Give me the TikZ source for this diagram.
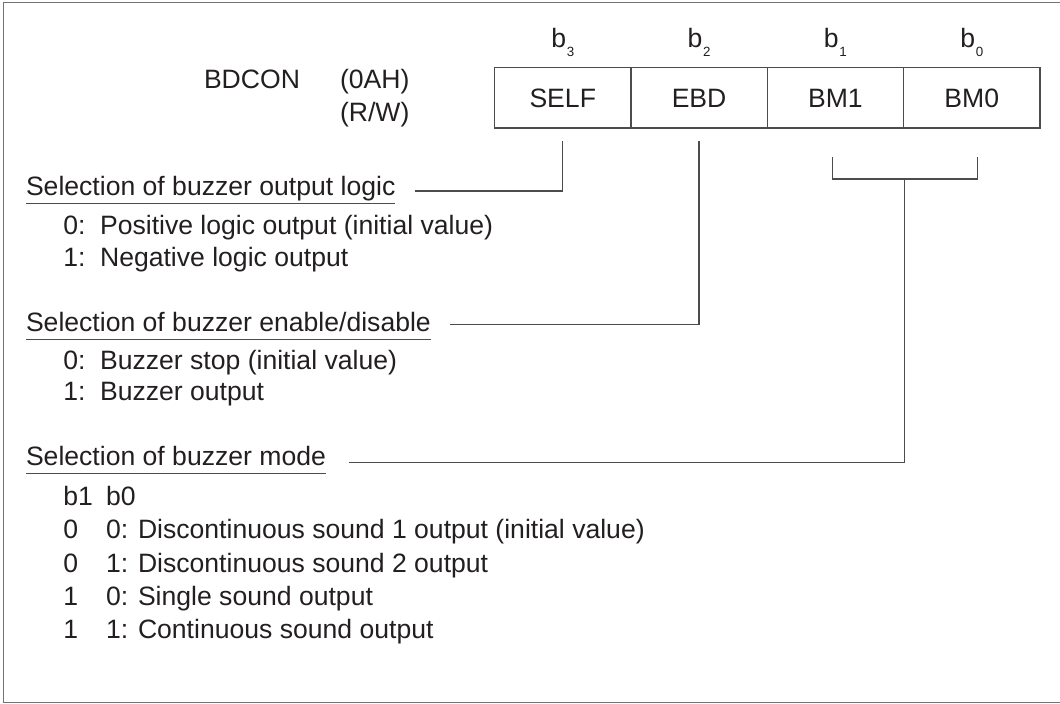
\documentclass[tikz,border=0pt]{standalone}
\usepackage{fontspec}
\setmainfont{Liberation Sans}
\usepackage{xcolor}
\usetikzlibrary{positioning}
\definecolor{ink}{HTML}{231F20}
\definecolor{wire}{gray}{0.30}
\definecolor{edge}{gray}{0.45}
\newcommand{\bitlbl}[1]{b\hspace{0.5pt}\raisebox{-6.7pt}{\fontsize{9.5pt}{11pt}\selectfont #1}}
\tikzset{
  txt/.style={inner sep=0pt, outer sep=0pt, anchor=base west, text=ink,
              font=\fontsize{18.9pt}{22pt}\selectfont},
  bit/.style={txt, anchor=base},
  cell/.style={draw=wire, line width=0.9pt, minimum width=3.4075cm, minimum height=1.5075cm,
               inner sep=0pt, outer sep=0pt, text=ink, text height=13.5pt, text depth=0pt,
               font=\fontsize{18.9pt}{22pt}\selectfont},
  conn/.style={draw=wire, line width=0.9pt},
  frame/.style={draw=edge, line width=0.9pt},
}

\begin{document}
\begin{tikzpicture}[x=0.025cm, y=-0.025cm]
  \useasboundingbox (0,0) rectangle (1060,704);
  \draw[frame] (1060,2.5) -- (3.5,2.5) -- (3.5,702.5) -- (1060,702.5);
  % register
  \node[txt] (name) at (204,88) {BDCON};
  \node[txt] (addr) at (340,88) {(0AH)};
  \node[txt] (rw) at (340,121.7) {(R/W)};
  \node[cell] (self) at (562.75,97.85) {SELF};
  \node[cell, right=0pt of self] (ebd) {EBD};
  \node[cell, right=0pt of ebd] (bmone) {BM1};
  \node[cell, right=0pt of bmone] (bmzero) {BM0};
  \foreach \c/\i in {self/3, ebd/2, bmone/1, bmzero/0}
    \node[bit] (b\i) at ([yshift=0.51cm]\c.north) {\bitlbl{\i}};
  % bit fields
  \node[txt] (logic) at (26,195) {Selection of buzzer output logic};
  \node[txt] (logiczero) at (63.3,234) {0:\hspace{0.55em}Positive logic output (initial value)};
  \node[txt] (logicone) at (63.3,266.7) {1:\hspace{0.55em}Negative logic output};
  \node[txt] (enable) at (26,331) {Selection of buzzer enable/disable};
  \node[txt] (enzero) at (63.3,369.3) {0:\hspace{0.55em}Buzzer stop (initial value)};
  \node[txt] (enone) at (63.3,400.7) {1:\hspace{0.55em}Buzzer output};
  \node[txt] (mode) at (26,465) {Selection of buzzer mode};
  \node[txt] (hdone) at (63.3,505) {b1};
  \node[txt] (hdzero) at (106,505) {b0};
  \foreach \y/\a/\b/\t [count=\n] in {538.5/0/0/Discontinuous sound 1 output (initial value),
      572/0/1/Discontinuous sound 2 output, 605/1/0/Single sound output,
      638.5/1/1/Continuous sound output} {
    \node[txt] (ma\n) at (63.3,\y) {\a};
    \node[txt] (mb\n) at (106,\y) {\b: \t};
  }
  \foreach \t in {logic, enable, mode}
    \draw[conn] ([shift={(0,8.7)}]\t.base west) -- ([shift={(0,8.7)}]\t.base east);
  % leaders
  \draw[conn] ([shift={(-3,29)}]bmone.south) -- ++(0,22) -| ([shift={(6,29)}]bmzero.south);
  \coordinate (brk) at ([shift={(1,51)}]bmone.south east);
  \draw[conn] ([shift={(20,-4)}]logic.base east) -| ([shift={(0,13)}]self.south);
  \draw[conn] ([shift={(19,-6.3)}]enable.base east) -| ([shift={(0,13)}]ebd.south);
  \draw[conn] ([shift={(22.7,-2.3)}]mode.base east) -| (brk);
\end{tikzpicture}
\end{document}
